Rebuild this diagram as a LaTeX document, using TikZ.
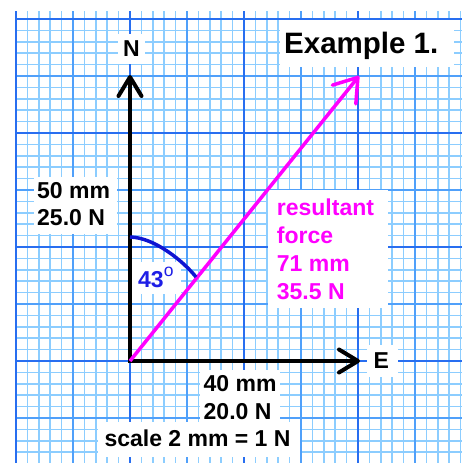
\documentclass[tikz,border=0pt]{standalone}
\usepackage{fontspec}
\setmainfont{Liberation Sans}
\usetikzlibrary{arrows.meta}
\definecolor{gridminor}{RGB}{140,205,255}
\definecolor{gridhalf}{RGB}{80,160,250}
\definecolor{gridmajor}{RGB}{40,110,240}
\definecolor{arcblue}{RGB}{15,20,210}
\definecolor{txtblue}{RGB}{30,30,230}
\definecolor{mag}{RGB}{255,0,255}
\tikzset{
  minorline/.style={gridminor, line width=1.5pt},
  halfline/.style={gridhalf, line width=1.7pt},
  majorline/.style={gridmajor, line width=1.9pt},
  labelbg/.style={fill=white},
  vec/.style={line width=4pt, line cap=rect, -{Straight Barb[length=19pt,width=23pt,round]}},
  resvec/.style={mag, line width=3.5pt, -{Straight Barb[length=22pt,width=30pt,round]}},
  anglearc/.style={arcblue, line width=3.5pt},
  lbl/.style={anchor=base west, inner sep=0pt, font=\fontsize{23}{27}\selectfont\bfseries},
}
\begin{document}
\begin{tikzpicture}[x=1pt,y=-1pt]
\useasboundingbox (0,0) rectangle (462,463);
% graph paper
\foreach \i in {-10,...,29} \draw[minorline] ({130+\i*11.4},11) -- ({130+\i*11.4},463);
\foreach \j in {-30,...,8} \draw[minorline] (15,{361+\j*11.4}) -- (462,{361+\j*11.4});
\foreach \i in {-5,5,15,25} \draw[halfline] ({130+\i*11.4},11) -- ({130+\i*11.4},463);
\foreach \j in {-25,-15,-5,5} \draw[halfline] (15,{361+\j*11.4}) -- (462,{361+\j*11.4});
\foreach \i in {-10,0,10,20} \draw[majorline] ({130+\i*11.4},11) -- ({130+\i*11.4},463);
\foreach \j in {-30,-20,-10,0} \draw[majorline] (15,{361+\j*11.4}) -- (462,{361+\j*11.4});
% label backgrounds
\fill[labelbg] (118,34) rectangle (145,64);
\fill[labelbg] (280,20) rectangle (454,67);
\fill[labelbg] (34,177) rectangle (117,234);
\fill[labelbg] (132,262) rectangle (181,294);
\fill[labelbg] (268,190) rectangle (388,308);
\fill[labelbg] (367,345) rectangle (398,377);
\fill[labelbg] (200,370) rectangle (280,424);
\fill[labelbg] (98,422) rectangle (300,457);
% vectors
\coordinate (O) at (130,361);
\coordinate (Ntip) at (130,75);
\coordinate (Etip) at (360,361);
\coordinate (Rtip) at (359,76);
\coordinate (arcS) at (130,237);
\coordinate (arcE) at (196,277);
\draw[vec] (O) -- (Ntip);
\draw[vec] (O) -- (Etip);
\draw[resvec] (O) -- (Rtip);
\draw[anglearc] (arcS) .. controls (155,237.5) and (184,262) .. (arcE);
% texts
\node[lbl, anchor=base] (nlab) at (131.5,56.7) {N};
\node[lbl, font=\fontsize{29.5}{30}\selectfont\bfseries] (title) at (284,53.3) {Example 1.};
\node[lbl] (nmm) at (37,198.5) {50 mm};
\node[lbl] (nn) at (37,225) {25.0 N};
\node[lbl, txtblue] (ang) at (138,287.7) {43\raisebox{11pt}{\fontsize{17.5}{18}\selectfont\mdseries o}};
\node[lbl, mag] (r1) at (276.7,215) {resultant};
\node[lbl, mag] (r2) at (276.7,243) {force};
\node[lbl, mag] (r3) at (276.7,271) {71 mm};
\node[lbl, mag] (r4) at (276.7,299) {35.5 N};
\node[lbl] (elab) at (373.3,368.3) {E};
\node[lbl] (emm) at (203.5,391.7) {40 mm};
\node[lbl] (en) at (203.5,419.3) {20.0 N};
\node[lbl] (scale) at (104.3,446) {scale 2 mm = 1 N};
\end{tikzpicture}
\end{document}
